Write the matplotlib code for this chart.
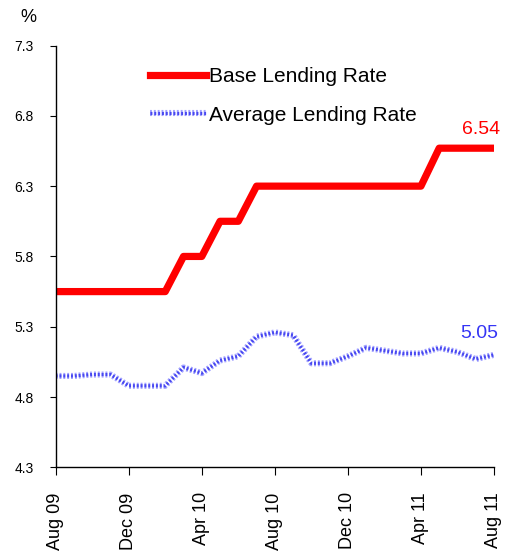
"""
Base Lending Rate vs Average Lending Rate, Aug 09 - Aug 11 (monthly, %)
"""

import matplotlib
matplotlib.use('Agg')
import matplotlib.pyplot as plt
import matplotlib.patheffects as pe

plt.rcParams['font.family'] = ['Liberation Sans', 'DejaVu Sans']

# Datos mensuales (Aug 09 ... Aug 11)
meses = list(range(25))
base_lending_rate = [5.55, 5.55, 5.55, 5.55, 5.55, 5.55, 5.55, 5.80, 5.80, 6.05,
                     6.05, 6.30, 6.30, 6.30, 6.30, 6.30, 6.30, 6.30, 6.30, 6.30,
                     6.30, 6.57, 6.57, 6.57, 6.57]
average_lending_rate = [4.95, 4.95, 4.96, 4.96, 4.88, 4.88, 4.88, 5.01, 4.97, 5.06,
                        5.09, 5.23, 5.26, 5.24, 5.04, 5.04, 5.09, 5.15, 5.13, 5.11,
                        5.11, 5.15, 5.12, 5.07, 5.10]

tick_meses = [0, 4, 8, 12, 16, 20, 24]
tick_labels = ['Aug 09', 'Dec 09', 'Apr 10', 'Aug 10', 'Dec 10', 'Apr 11', 'Aug 11']
y_ticks = [4.3, 4.8, 5.3, 5.8, 6.3, 6.8, 7.3]

ROJO = '#ff0000'
AZUL = '#3535f5'

fig = plt.figure(figsize=(5.08, 5.59), dpi=100)
ax = fig.add_axes([0.1096, 0.164, 0.8628, 0.7545])

# Linea roja gruesa
ax.plot(meses, base_lending_rate, color=ROJO, linewidth=5.2, label='Base Lending Rate')

# Linea azul con textura (fondo claro + puntos)
ax.plot(meses, average_lending_rate, color='#4848f0', linewidth=2.3,
        linestyle=(0, (0.6, 0.6)), label='Average Lending Rate',
        path_effects=[pe.Stroke(linewidth=4.4, foreground='#a2a2ff'), pe.Normal()])

# Etiquetas del ultimo valor
ax.text(23.3, 6.67, '6.54', color=ROJO, fontsize=14, ha='center', va='baseline')
ax.text(23.2, 5.22, '5.05', color=AZUL, fontsize=14, ha='center', va='baseline')

ax.set_xlim(0, 24)
ax.set_ylim(4.3, 7.3)
ax.set_xticks(tick_meses)
ax.set_xticklabels(tick_labels, rotation=90, fontsize=13)
ax.set_yticks(y_ticks)
ax.set_yticklabels([f'{v:.1f}' for v in y_ticks], fontsize=10)
ax.tick_params(axis='x', direction='out', length=6, pad=12, colors='black')
ax.tick_params(axis='y', direction='out', length=4, pad=12, colors='black')

for lado in ['top', 'right']:
    ax.spines[lado].set_visible(False)
for lado in ['left', 'bottom']:
    ax.spines[lado].set_linewidth(1.0)

ax.legend(loc='center left', bbox_to_anchor=(0.215, 0.881), frameon=False,
          fontsize=15, handlelength=2.7, handletextpad=0.12, labelspacing=0.95,
          borderpad=0, borderaxespad=0)

fig.text(0.056, 0.969, '%', fontsize=13, ha='center', va='center')

fig.savefig('out.png', dpi=100)
